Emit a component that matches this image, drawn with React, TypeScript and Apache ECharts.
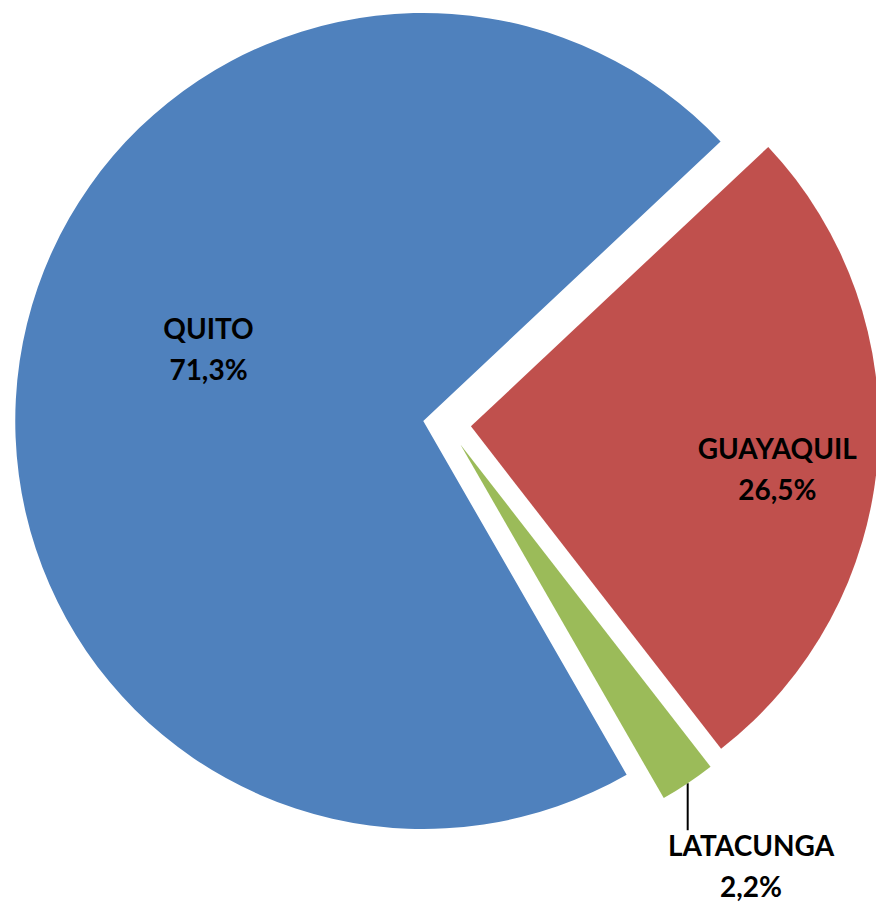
import React, { useEffect, useRef } from 'react';
import * as echarts from 'echarts';

const categories = ['QUITO', 'GUAYAQUIL', 'LATACUNGA'];
const values = [71.3, 26.5, 2.2];
const colors = ['#4F81BD', '#C0504D', '#9BBB59'];

export default function App() {
  const ref = useRef<HTMLDivElement>(null);
  useEffect(() => {
    const chart = echarts.init(ref.current!, null, { renderer: 'svg' });
    const fmt = (v: number) => v.toFixed(1).replace('.', ',') + '%';
    const labelShift = [[-10, -42], [100, 26], [20, 70]];
    chart.setOption({
      animation: false,
      series: [
        {
          type: 'pie',
          center: [447, 424.5],
          radius: 408,
          startAngle: -60.1,
          clockwise: true,
          selectedMode: 'multiple',
          selectedOffset: 24,
          avoidLabelOverlap: false,
          itemStyle: { borderWidth: 0 },
          label: {
            fontFamily: 'Lato',
            fontWeight: 'bold',
            fontSize: 28,
            color: '#000',
            lineHeight: 41,
            formatter: (p: any) => `${p.name}\n${fmt(p.value)}`,
          },
          labelLine: { lineStyle: { color: '#000', width: 2 } },
          emphasis: { disabled: true },
          labelLayout: (p: any) => {
            const [dx, dy] = labelShift[p.dataIndex];
            if (p.dataIndex !== 2 || !p.labelLinePoints) return { dx, dy };
            const s = p.labelLinePoints[0];
            const e = [s[0], s[1] + 47];
            return {
              dx,
              dy,
              align: 'center',
              verticalAlign: 'middle',
              labelLinePoints: [s, e, e],
            };
          },
          data: categories.map((name, i) => ({
            name,
            value: values[i],
            selected: true,
            itemStyle: { color: colors[i] },
            select: { itemStyle: { color: colors[i] } },
            label: { position: i < 2 ? 'inside' : 'outside' },
            labelLine: { show: i === 2 },
          })),
        },
      ],
    });
    return () => chart.dispose();
  }, []);
  return <div ref={ref} style={{ position: 'absolute', left: 0, top: 0, width: 876, height: 904 }} />;
}
